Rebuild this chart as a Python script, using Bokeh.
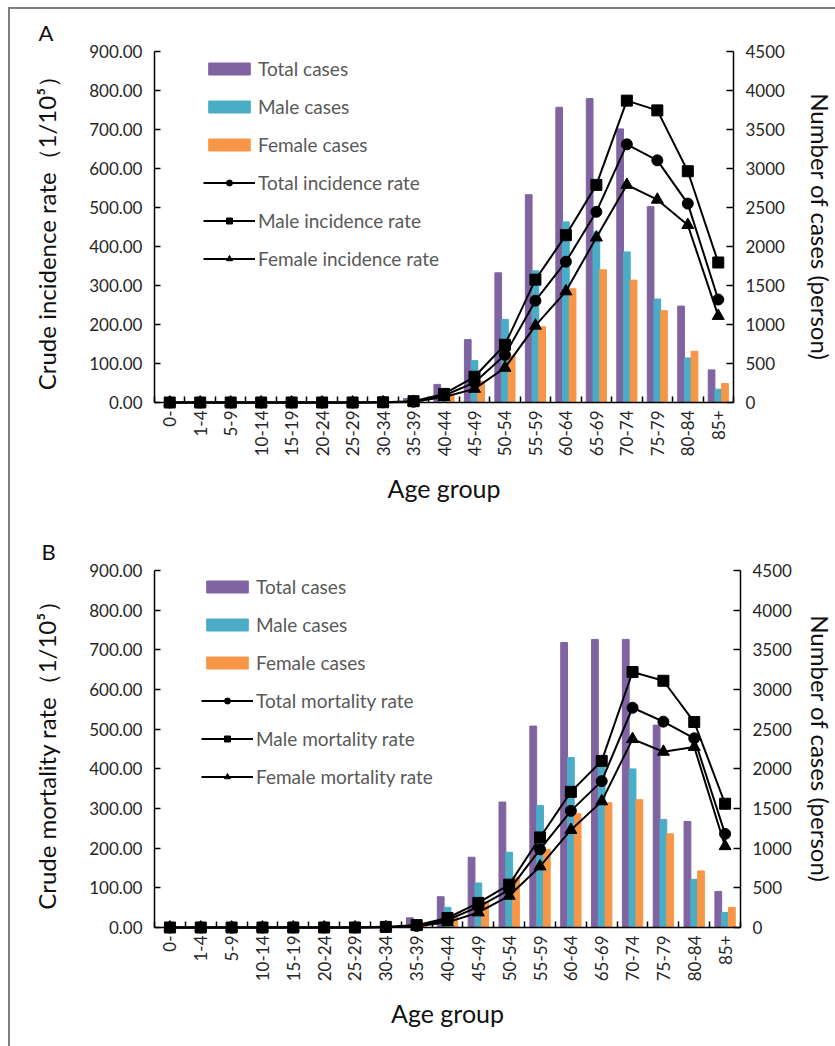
import numpy as np
from bokeh.plotting import figure
from bokeh.models import (Range1d, LinearAxis, FixedTicker, NumeralTickFormatter,
                          Legend, LegendItem, Title)
from bokeh.layouts import column
from bokeh.embed import file_html
from bokeh.resources import INLINE

# ---------------- data ----------------
ages = ["0-", "1-4", "5-9", "10-14", "15-19", "20-24", "25-29", "30-34", "35-39",
        "40-44", "45-49", "50-54", "55-59", "60-64", "65-69", "70-74", "75-79",
        "80-84", "85+"]

# Panel A: incidence
total_cases_a = [0, 0, 0, 0, 1, 2, 4, 12, 50, 232, 806, 1663, 2664, 3785, 3896, 3508, 2511, 1236, 418]
male_cases_a = [0, 0, 0, 0, 1, 1, 2, 6, 28, 130, 537, 1066, 1688, 2315, 2187, 1931, 1326, 571, 171]
female_cases_a = [0, 0, 0, 0, 0, 1, 2, 6, 22, 102, 269, 597, 972, 1458, 1701, 1569, 1177, 656, 243]
total_rate_a = [0, 0, 0, 0, 0, 0, 0, 0.5, 2, 18, 51, 122, 261, 361, 489, 662, 621, 510, 264]
male_rate_a = [0, 0, 0, 0, 0, 0, 0, 0.6, 3.4, 22, 66, 148, 315, 429, 558, 774, 749, 593, 359]
female_rate_a = [0, 0, 0, 0, 0, 0, 0, 0.4, 1.6, 14, 35, 89, 197, 285, 423, 558, 520, 455, 222]

# Panel B: mortality
total_cases_b = [0, 0, 0, 0, 1, 2, 4, 15, 122, 388, 886, 1581, 2539, 3593, 3631, 3631, 2551, 1337, 455]
male_cases_b = [0, 0, 0, 0, 1, 1, 2, 9, 70, 253, 561, 949, 1539, 2142, 2024, 1999, 1362, 607, 190]
female_cases_b = [0, 0, 0, 0, 0, 1, 2, 6, 52, 135, 325, 632, 983, 1434, 1573, 1611, 1181, 713, 253]
total_rate_b = [0, 0, 0, 0, 0, 0, 0, 1, 4, 19, 52, 95, 197, 294, 369, 554, 519, 477, 236]
male_rate_b = [0, 0, 0, 0, 0, 0, 0, 1.5, 6, 24, 62, 108, 227, 342, 420, 644, 622, 518, 312]
female_rate_b = [0, 0, 0, 0, 0, 0, 0, 0.8, 3, 13, 38, 80, 154, 246, 318, 475, 443, 455, 205]

rate_ticks = list(range(0, 901, 100))
case_ticks = list(range(0, 4501, 500))

FONT = "Lato"
PURPLE = "#8064A2"
AQUA = "#4BACC6"
ORANGE = "#F79646"
TXT = "#262626"


def panel(letter, kind, tc, mc, fc, tr, mr, fr, fw, fh, left, top, total_h, ylab,
          leg_xy, right_standoff, title_offset):
    right = 825 - left - fw
    bottom = total_h - top - fh
    n = len(ages)
    xs = np.arange(n) + 0.5
    p = figure(output_backend="svg", toolbar_location=None,
               frame_width=fw, frame_height=fh,
               min_border_left=left, min_border_right=right,
               min_border_top=top, min_border_bottom=bottom,
               x_range=Range1d(0, n), y_range=Range1d(0, 900))
    p.extra_y_ranges = {"cases": Range1d(0, 4500)}
    p.outline_line_color = None
    p.xgrid.visible = False
    p.ygrid.visible = False
    p.background_fill_color = "white"
    p.border_fill_color = "white"

    p.title = Title(text=letter, align="left", offset=title_offset, standoff=11,
                    text_font=FONT, text_font_size="22px", text_font_style="normal",
                    text_color="#111111")

    bw = 0.22
    b1 = p.vbar(x=xs - bw, top=tc, width=bw, color=PURPLE, y_range_name="cases")
    b2 = p.vbar(x=xs, top=mc, width=bw, color=AQUA, y_range_name="cases")
    b3 = p.vbar(x=xs + bw, top=fc, width=bw, color=ORANGE, y_range_name="cases")

    l1 = p.line(xs, tr, line_color="black", line_width=2, level="overlay")
    s1 = p.scatter(xs, tr, marker="circle", size=11, color="black", level="overlay")
    l2 = p.line(xs, mr, line_color="black", line_width=2, level="overlay")
    s2 = p.scatter(xs, mr, marker="square", size=11, color="black", level="overlay")
    l3 = p.line(xs, fr, line_color="black", line_width=2, level="overlay")
    s3 = p.scatter(xs, fr, marker="triangle", size=12, color="black", level="overlay")

    # x axis
    xa = p.xaxis[0]
    xa.ticker = FixedTicker(ticks=list(xs), minor_ticks=list(range(n + 1)))
    xa.major_label_overrides = {float(x): lab for x, lab in zip(xs, ages)}
    xa.major_label_orientation = np.pi / 2
    xa.major_tick_in = 0
    xa.major_tick_out = 0
    xa.minor_tick_in = 6
    xa.minor_tick_out = 0
    xa.major_label_standoff = 8
    xa.axis_label = "Age group"
    xa.axis_label_standoff = 14

    # left axis
    ya = p.yaxis[0]
    ya.ticker = FixedTicker(ticks=rate_ticks)
    ya.formatter = NumeralTickFormatter(format="0.00")
    ya.major_tick_in = 6
    ya.major_tick_out = 0
    ya.minor_tick_line_color = None
    ya.major_label_standoff = 12
    ya.axis_label = ylab
    ya.axis_label_standoff = 25

    ra = LinearAxis(y_range_name="cases", ticker=FixedTicker(ticks=case_ticks))
    ra.major_tick_in = 7
    ra.major_tick_out = 0
    ra.minor_tick_line_color = None
    ra.major_label_standoff = 12
    ra.axis_label = "Number of cases (person)"
    ra.axis_label_standoff = right_standoff
    p.add_layout(ra, "right")

    for ax in (xa, ya, ra):
        ax.axis_line_color = "black"
        ax.axis_line_width = 1.5
        ax.major_tick_line_color = "black"
        ax.major_tick_line_width = 1.5
        ax.minor_tick_line_width = 1.5
        ax.major_label_text_font = FONT
        ax.major_label_text_font_size = "17px"
        ax.major_label_text_color = TXT
        ax.axis_label_text_font = FONT
        ax.axis_label_text_font_size = "24px"
        ax.axis_label_text_font_style = "normal"
        ax.axis_label_text_color = "#111111"
    xa.minor_tick_line_color = "black"
    xa.axis_label_text_font_size = "25px"

    word = "incidence" if kind == "inc" else "mortality"
    items = [
        LegendItem(label="Total cases", renderers=[b1]),
        LegendItem(label="Male cases", renderers=[b2]),
        LegendItem(label="Female cases", renderers=[b3]),
        LegendItem(label=f"Total {word} rate", renderers=[l1, s1]),
        LegendItem(label=f"Male {word} rate", renderers=[l2, s2]),
        LegendItem(label=f"Female {word} rate", renderers=[l3, s3]),
    ]
    leg = Legend(items=items, location=leg_xy, orientation="vertical",
                 background_fill_alpha=0, border_line_color=None,
                 label_text_font=FONT, label_text_font_size="19px",
                 label_text_color="#595959",
                 glyph_width=52, glyph_height=15, label_height=20,
                 spacing=15, padding=0, margin=0, label_standoff=3)
    p.add_layout(leg)
    return p


pA = panel("A", "inc", total_cases_a, male_cases_a, female_cases_a,
           total_rate_a, male_rate_a, female_rate_a,
           579, 351, 144, 42, 520, "Crude incidence rate\uff081/10\u2075\uff09", (49, 132),
           18, -116)
pB = panel("B", "mort", total_cases_b, male_cases_b, female_cases_b,
           total_rate_b, male_rate_b, female_rate_b,
           586, 357, 141, 41, 517, "Crude mortality rate\uff081/10\u2075\uff09", (47, 139),
           11, -113)

layout = column(pA, pB, margin=(7, 0, 0, 8),
                styles={"border-left": "2px solid #7f7f7f", "border-top": "2px solid #7f7f7f"})

open("out.html", "w").write(file_html(layout, INLINE))
